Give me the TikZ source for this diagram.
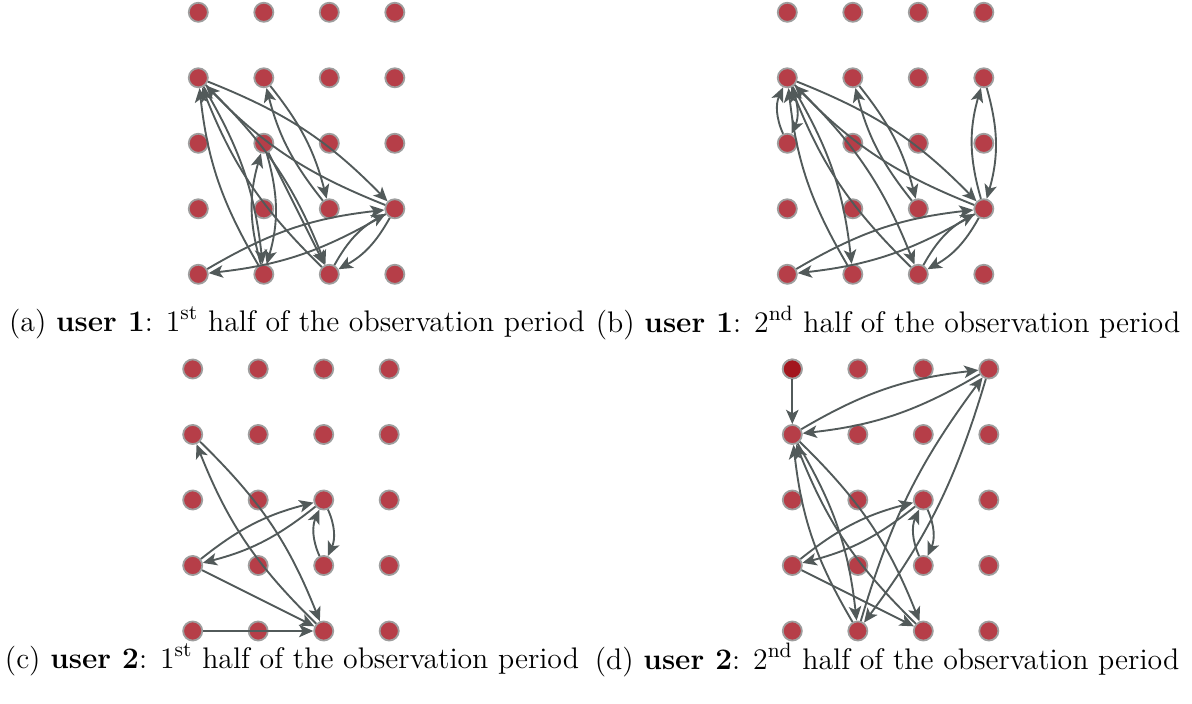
\documentclass[tikz,border=0pt]{standalone}
\usepackage{tikz}
\usetikzlibrary{arrows.meta}
\tikzset{every picture/.style={line width=0.75pt}}
\definecolor{dotred}{RGB}{182,62,72}
\definecolor{dotdark}{RGB}{163,22,30}
\definecolor{rimgray}{RGB}{158,158,158}
\definecolor{arcgray}{RGB}{82,90,90}

\begin{document}
\begin{tikzpicture}[x=0.45pt, y=-0.45pt, font=\fontsize{13.4}{16}\selectfont,
    spot/.style={circle, fill=dotred, draw=rimgray, line width=0.8pt, minimum size=8.6pt, inner sep=0pt},
    link/.style={draw=arcgray, line width=0.85pt, -{Stealth[length=6.4pt, width=5.6pt, inset=1.6pt]}},
    pair/.style={link, bend left=#1}, pair/.default=12]
    \useasboundingbox (0,0) rectangle (1192,704);

    \foreach \p/\x/\y in {a/198.3/12.3, b/787.3/12.3, c/192.7/369, d/792.3/369}
        \foreach \c in {1,...,4}
            \foreach \r in {1,...,5}
                \node[spot] (\p\c\r) at ({\x+65.5*(\c-1)}, {\y+65.5*(\r-1)}) {};
    \node[spot, fill=dotdark] at (d11) {};

    \foreach \s/\t/\b in {a12/a44/12, a44/a12/12, a22/a34/12, a34/a22/12, a23/a25/16, a25/a23/16,
                          a12/a25/12, a25/a12/12, a15/a44/12, a44/a15/12, a35/a44/16, a44/a35/16,
                          a12/a35/12, a35/a12/12}
        \draw[pair=\b] (\s) to (\t);
    \draw[link] (a23) -- (a35);

    \foreach \s/\t/\b in {b12/b13/24, b13/b12/24, b12/b44/12, b44/b12/12, b22/b34/12, b34/b22/12,
                          b42/b44/16, b44/b42/16, b12/b25/12, b25/b12/12, b12/b35/12, b35/b12/12,
                          b15/b44/12, b44/b15/12, b35/b44/16, b44/b35/16}
        \draw[pair=\b] (\s) to (\t);

    \foreach \s/\t/\b in {c12/c35/12, c35/c12/12, c14/c33/12, c33/c14/12, c33/c34/24, c34/c33/24}
        \draw[pair=\b] (\s) to (\t);
    \draw[link] (c14) -- (c35);
    \draw[link] (c15) -- (c35);

    \draw[link] (d11) -- (d12);
    \foreach \s/\t/\b in {d12/d41/12, d41/d12/12, d25/d41/10, d41/d25/10, d12/d25/12, d25/d12/12,
                          d12/d35/12, d35/d12/12, d14/d33/12, d33/d14/12, d33/d34/24, d34/d33/24}
        \draw[pair=\b] (\s) to (\t);
    \draw[link] (d14) -- (d35);

    \node (capa) at (297,323) {(a) \textbf{user 1}: 1\textsuperscript{st} half of the observation period};
    \node (capb) at (888,323) {(b) \textbf{user 1}: 2\textsuperscript{nd} half of the observation period};
    \node (capc) at (292,660) {(c) \textbf{user 2}: 1\textsuperscript{st} half of the observation period};
    \node (capd) at (887,660) {(d) \textbf{user 2}: 2\textsuperscript{nd} half of the observation period};
\end{tikzpicture}
\end{document}
